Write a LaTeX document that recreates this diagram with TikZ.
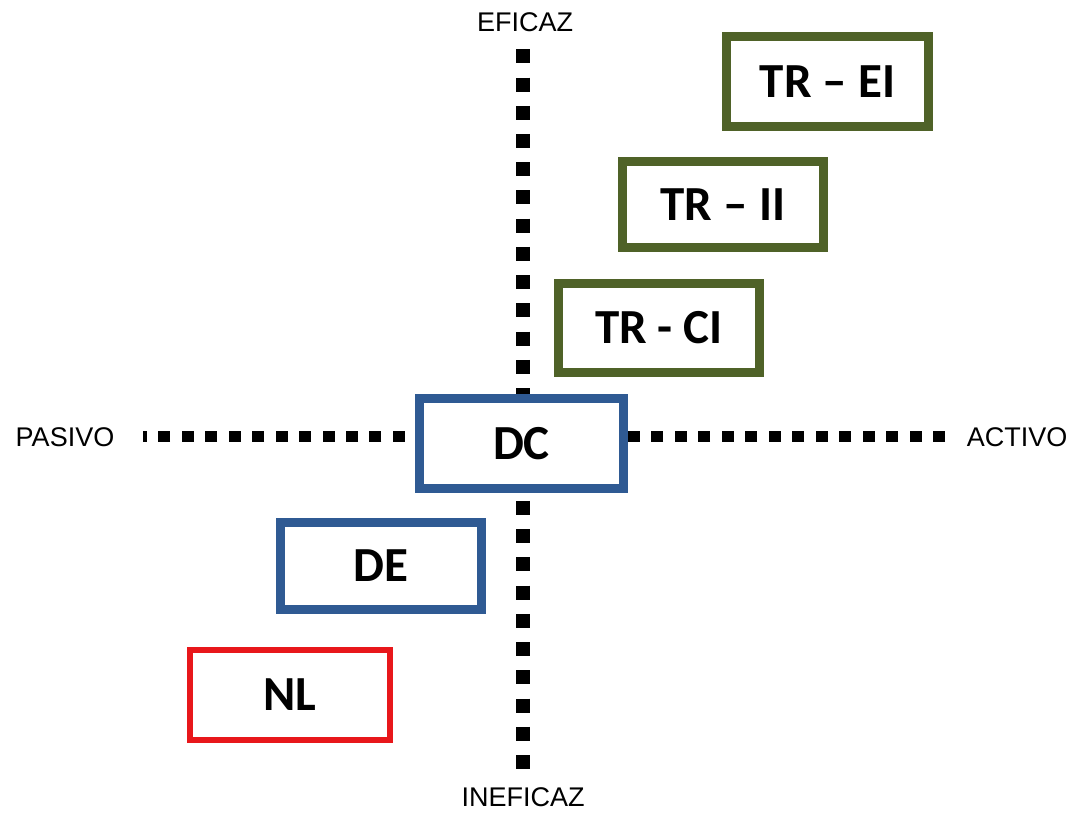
\documentclass[tikz,border=0pt]{standalone}
\usepackage{fontspec}
\setmainfont{Carlito}
\newfontfamily\axisfont{Liberation Sans}
\definecolor{olivegreen}{HTML}{4F6228}
\definecolor{steelblue}{HTML}{2F5A93}
\definecolor{boxred}{HTML}{E8171B}
\tikzset{
  vaxis/.style={line width=14pt, dash pattern=on 14pt off 14.23pt, black},
  haxis/.style={line width=11pt, dash pattern=on 12pt off 11.48pt, black},
  axislabel/.style={font=\axisfont\fontsize{27}{27}\selectfont, inner sep=0pt},
  stagebox/.style={draw, fill=white, line width=9pt, inner sep=0pt,
    font=\bfseries\fontsize{49}{49}\selectfont},
  greenbox/.style={stagebox, draw=olivegreen},
  bluebox/.style={stagebox, draw=steelblue},
  redbox/.style={stagebox, draw=boxred, line width=6pt},
}
\begin{document}
\begin{tikzpicture}[x=1pt, y=-1pt]
\useasboundingbox (0,0) rectangle (1076,812);
% axis labels
\node[axislabel] (efi) at (525,22) {EFICAZ};
\node[axislabel] (inefi) at (523,797) {INEFICAZ};
\node[axislabel] (pas) at (65,437) {PASIVO};
\node[axislabel] (act) at (1017,437) {ACTIVO};
% axis end points
\coordinate (vtop) at (522.5,49.3);
\coordinate (vbot) at (522.5,769.5);
\coordinate (hright) at (945,436.5);
\coordinate (hleft) at (143,436.5);
\draw[vaxis] (vtop) -- (vbot);
\draw[haxis] (hright) -- (hleft);
% stage boxes
\node[greenbox, minimum width=202pt, minimum height=90pt] (trei) at (827.5,81.5) {TR -- EI};
\node[greenbox, minimum width=201pt, minimum height=86pt] (trii) at (723,204.5) {TR -- II};
\node[greenbox, minimum width=201pt, minimum height=89pt] (trci) at (659,328) {TR - CI};
\node[bluebox, minimum width=204pt, minimum height=90pt] (dc) at (521.5,443.5) {DC};
\node[bluebox, minimum width=201pt, minimum height=87pt] (de) at (381,566) {DE};
\node[redbox, minimum width=200pt, minimum height=90pt] (nl) at (290,695) {NL};
\end{tikzpicture}
\end{document}
